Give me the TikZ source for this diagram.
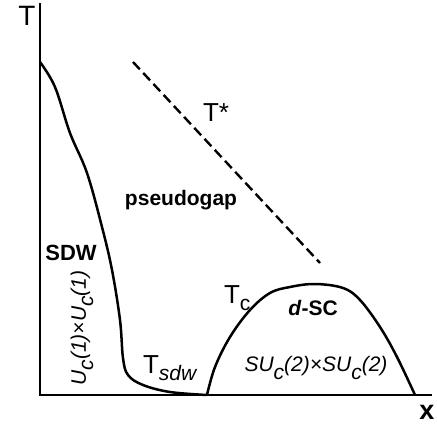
\documentclass[tikz,border=0pt]{standalone}
\usepackage{fontspec}
\setmainfont{Liberation Sans}
\begin{document}
\begin{tikzpicture}[x=1pt,y=-1pt,
  curve/.style={line width=2.5pt, line join=round},
  axisline/.style={line width=2.6pt},
  lbl/.style={inner sep=0pt, outer sep=0pt},
  bigt/.style={lbl, font=\fontsize{28}{30}\selectfont},
  midt/.style={lbl, font=\fontsize{26}{28}\selectfont},
  boldlbl/.style={lbl, font=\fontsize{21}{24}\selectfont\bfseries},
  itlbl/.style={lbl, font=\fontsize{21}{24}\selectfont\itshape}]
\useasboundingbox (0,0) rectangle (437,428);
% axes
\coordinate (top) at (40,3);
\coordinate (origin) at (40,395);
\coordinate (right) at (432,395);
\draw[axisline] (top) -- (origin) -- (right);
% SDW boundary
\draw[curve] plot[smooth, tension=0.6] coordinates {(40,62) (55,87) (70,133) (87,173) (102,227) (112,270) (120,320) (123,358) (128,375) (143,385) (170,392) (207,395)};
% d-SC dome
\draw[curve] plot[smooth, tension=0.6] coordinates {(207,395) (215,367) (230,337) (250,310) (270,293) (290,287) (315,284) (343,288) (360,300) (380,327) (397,357) (415,395)};
% T* line
\coordinate (ts1) at (133,62);
\coordinate (ts2) at (320,263);
\draw[line width=2.4pt, dash pattern=on 10pt off 5pt] (ts1) -- (ts2);
% labels
\node[bigt] (lT) at (27,16) {T};
\node[lbl, font=\fontsize{27}{30}\selectfont\bfseries] (lx) at (427,412) {x};
\node[midt] (lTs) at (216,113) {T*};
\node[boldlbl] (lpg) at (181,200) {pseudogap};
\node[boldlbl, font=\fontsize{22}{24}\selectfont\bfseries] (lsdw) at (71,253) {SDW};
\node[itlbl, rotate=90] (lu1) at (82,328) {U\raisebox{-0.35em}{c}(1)×U\raisebox{-0.35em}{c}(1)};
\node[midt, anchor=base west] (ltsdw) at (143,373) {T\raisebox{-0.28em}{\fontsize{21}{24}\selectfont\itshape sdw}};
\node[midt, anchor=base west] (ltc) at (224,303) {T\raisebox{-0.3em}{\fontsize{21}{24}\selectfont c}};
\node[boldlbl] (ldsc) at (313,308) {\textit{d}-SC};
\node[itlbl] (lsu) at (316,368) {SU\raisebox{-0.35em}{c}(2)×SU\raisebox{-0.35em}{c}(2)};
\end{tikzpicture}
\end{document}
